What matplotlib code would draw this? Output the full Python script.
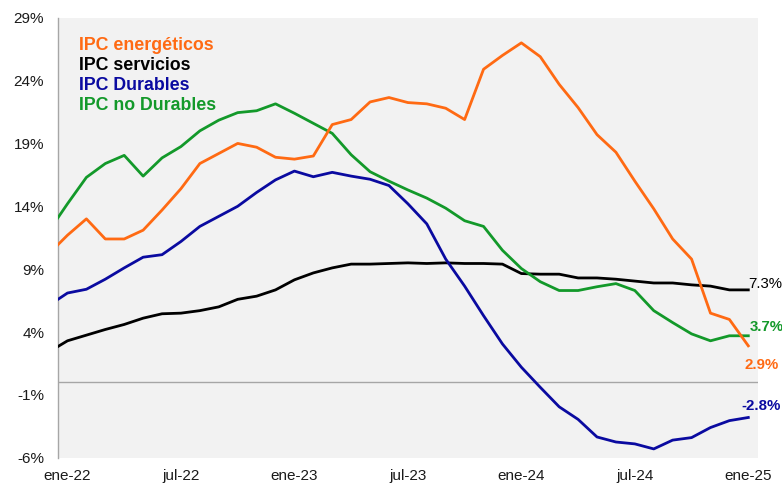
import matplotlib
matplotlib.use("Agg")
import matplotlib.pyplot as plt
import numpy as np

plt.rcParams['font.family'] = ['Liberation Sans', 'DejaVu Sans']

# month index: -1 = dic-21 ... 36 = ene-25
months = list(range(-1, 37))
tick_pos = [0, 6, 12, 18, 24, 30, 36]
tick_labels = ["ene-22", "jul-22", "ene-23", "jul-23", "ene-24", "jul-24", "ene-25"]

energeticos = [10.2, 11.7, 13.0, 11.4, 11.4, 12.1, 13.7, 15.4, 17.4, 18.2, 19.0, 18.7,
               17.9, 17.75, 18.0, 20.5, 20.9, 22.3, 22.65, 22.25, 22.15, 21.8, 20.9, 24.9,
               26.0, 27.0, 25.9, 23.7, 21.85, 19.7, 18.3, 16.0, 13.8, 11.4, 9.8, 5.5,
               5.0, 2.9]
servicios = [2.4, 3.3, 3.75, 4.2, 4.6, 5.1, 5.45, 5.5, 5.7, 6.0, 6.6, 6.85,
             7.35, 8.15, 8.7, 9.1, 9.4, 9.4, 9.45, 9.5, 9.45, 9.5, 9.45, 9.45,
             9.4, 8.65, 8.6, 8.6, 8.3, 8.3, 8.2, 8.05, 7.9, 7.9, 7.75, 7.65,
             7.35, 7.35]
durables = [6.1, 7.1, 7.4, 8.2, 9.1, 9.95, 10.15, 11.2, 12.4, 13.2, 14.0, 15.1,
            16.1, 16.8, 16.35, 16.7, 16.4, 16.15, 15.65, 14.2, 12.6, 9.8, 7.65, 5.3,
            3.05, 1.2, -0.4, -1.95, -2.95, -4.35, -4.75, -4.9, -5.3, -4.6, -4.4, -3.6,
            -3.05, -2.8]
no_durables = [12.0, 14.2, 16.3, 17.4, 18.05, 16.4, 17.85, 18.75, 20.0, 20.85, 21.45, 21.6,
               22.15, 21.4, 20.6, 19.8, 18.1, 16.75, 16.0, 15.3, 14.65, 13.85, 12.85, 12.4,
               10.5, 9.05, 8.0, 7.3, 7.3, 7.6, 7.85, 7.3, 5.7, 4.75, 3.85, 3.3,
               3.7, 3.7]

c_orange = "#FF6A13"
c_black = "#000000"
c_blue = "#0A0AA0"
c_green = "#13992A"

fig = plt.figure(figsize=(7.82, 4.84), dpi=100)
ax = fig.add_axes([0.0742, 0.0543, 0.969 - 0.0742, 0.9634 - 0.0543])
ax.set_facecolor("#F2F2F2")

ax.axhline(0, color="#A6A6A6", lw=1.0, zorder=1)

lw = 2.0
ax.plot(months, servicios, color=c_black, lw=lw, zorder=3)
ax.plot(months, no_durables, color=c_green, lw=lw, zorder=3)
ax.plot(months, durables, color=c_blue, lw=lw, zorder=3)
ax.plot(months, energeticos, color=c_orange, lw=lw, zorder=4)

ax.set_xlim(-0.5, 36.5)
ax.set_ylim(-6, 29)
ax.set_yticks(np.arange(-6, 30, 5))
ax.set_yticklabels([f"{v}%" for v in range(-6, 30, 5)], fontsize=11, color="#1a1a1a")
ax.set_xticks(tick_pos)
ax.set_xticklabels(tick_labels, fontsize=11, color="#1a1a1a")
ax.tick_params(axis='both', length=0)
ax.tick_params(axis='y', pad=10)
ax.tick_params(axis='x', pad=8)

for s in ["top", "right", "bottom"]:
    ax.spines[s].set_visible(False)
ax.spines["left"].set_color("#A6A6A6")
ax.spines["left"].set_linewidth(1.0)

# legend as colored text
legend_items = [("IPC energéticos", c_orange), ("IPC servicios", c_black),
                ("IPC Durables", c_blue), ("IPC no Durables", c_green)]
for i, (txt, col) in enumerate(legend_items):
    fig.text(79 / 782, 1 - (45 + 20.2 * i) / 484, txt, color=col, fontsize=12.8,
             fontweight="bold", ha="left", va="center")

# end labels
end_labels = [
    (servicios[-1], "7.3%", c_black, (0, 6), "normal"),
    (no_durables[-1], "3.7%", c_green, (1, 9), "bold"),
    (energeticos[-1], "2.9%", c_orange, (-4, -19), "bold"),
    (durables[-1], "-2.8%", c_blue, (-7, 11), "bold"),
]
for val, txt, col, off, wt in end_labels:
    ax.annotate(txt, xy=(36, val), xytext=off, textcoords="offset pixels",
                color=col, fontsize=10.8, fontweight=wt, ha="left", va="center",
                annotation_clip=False)

fig.savefig("out.png", dpi=100)
